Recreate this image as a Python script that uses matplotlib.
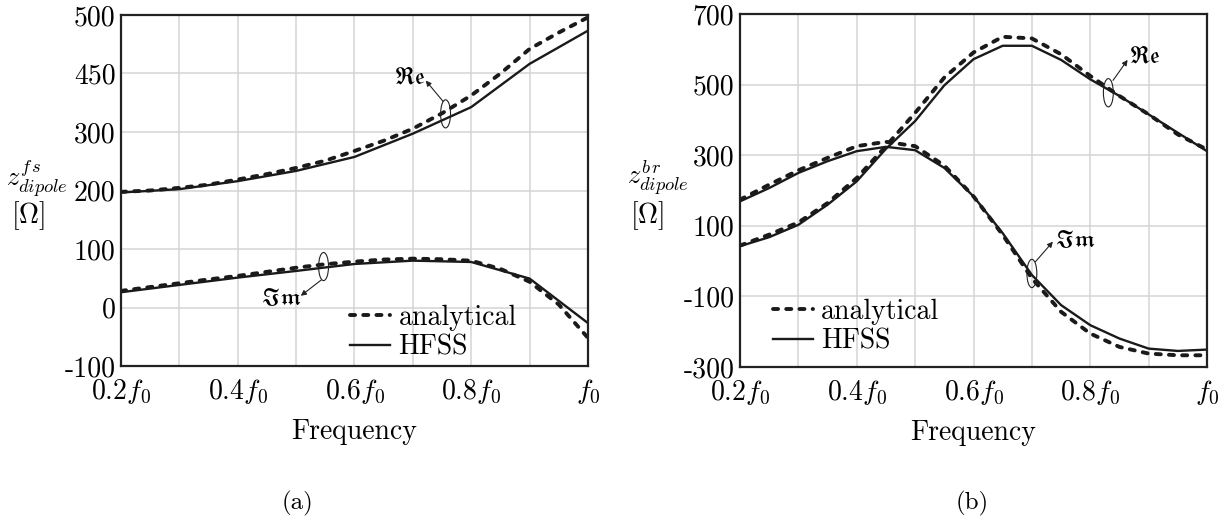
import matplotlib
matplotlib.use("Agg")
import matplotlib.pyplot as plt
from matplotlib.patches import Ellipse
import numpy as np

plt.rcParams['font.family'] = 'serif'
plt.rcParams['font.serif'] = ['cmr10']
plt.rcParams['mathtext.fontset'] = 'cm'
plt.rcParams['axes.unicode_minus'] = False
plt.rcParams['axes.formatter.use_mathtext'] = True

# frequency grids (fractions of f0)
f_coarse = [0.2, 0.3, 0.4, 0.5, 0.6, 0.7, 0.8, 0.9, 1.0]
f_fine = [0.2, 0.25, 0.3, 0.35, 0.4, 0.45, 0.5, 0.55, 0.6, 0.65, 0.7,
          0.75, 0.8, 0.85, 0.9, 0.95, 1.0]

# (a) free-space dipole impedance
fs_re_hfss = [196.6, 202.3, 216, 233.5, 257.4, 297.2, 342.6, 416.5, 473.3]
fs_im_hfss = [26.1, 38.6, 51.1, 62.5, 74.4, 80.1, 77.8, 49.4, -26.7]
fs_re_ana = [197.7, 200, 204.5, 210, 218.8, 228, 238.6, 251, 267.6, 285,
             305.7, 332, 362.5, 400, 442, 470, 496]
fs_im_ana = [28.4, 35, 41.5, 48, 54, 61, 68, 74, 78.4, 82, 83.5, 82.5, 80,
             66, 44, 5, -52]
fs_yticks = [-100, 0, 100, 200, 300, 400, 500]
fs_yticklabels = ["-100", "0", "100", "200", "300", "450", "500"]

# (b) dipole impedance with reflector
br_re_hfss = [42.2, 67.8, 102.8, 159.7, 226, 318, 396.7, 498, 572, 610, 610,
              570, 515, 467.8, 415.6, 363.5, 311.4]
br_re_ana = [44, 75, 109.5, 164.5, 235.5, 325.6, 420, 520, 591, 635.5,
             630.8, 586, 524.6, 467.8, 415.6, 358.8, 316]
br_im_hfss = [169.2, 207, 249.8, 283, 311.4, 323.7, 314.2, 264, 183.4, 79.1,
              -39.3, -124.6, -181.5, -219.4, -247.9, -254.5, -250.7]
br_im_ana = [174, 216.6, 257.3, 292.4, 325.6, 337.9, 325.6, 270.6, 183.4,
             74.4, -48.8, -143.6, -205.2, -243.1, -262, -266.8, -266.8]
br_yticks = [-300, -100, 100, 300, 500, 700]

xticks = [0.2, 0.4, 0.6, 0.8, 1.0]
xticklabels = [r"0.2$f_0$", r"0.4$f_0$", r"0.6$f_0$", r"0.8$f_0$", r"$f_0$"]

FS = 20
dash = dict(color="#1a1a1a", lw=2.8, linestyle=(0, (1.3, 2.1)),
            dash_capstyle="round")
solid = dict(color="#1a1a1a", lw=1.7)

fig = plt.figure(figsize=(12.28, 5.32), dpi=100)
ax1 = fig.add_axes([121 / 1228, 1 - 366 / 532, 467 / 1228, 351 / 532])
ax2 = fig.add_axes([740 / 1228, 1 - 367 / 532, 467 / 1228, 353 / 532])


def style(ax, yticks, ylabels, ylim):
    ax.set_xlim(0.2, 1.0)
    ax.set_ylim(*ylim)
    ax.set_xticks(np.arange(0.2, 1.01, 0.1), minor=True)
    ax.set_xticks(xticks)
    ax.set_xticklabels(xticklabels, fontsize=FS)
    ax.set_yticks(yticks)
    ax.set_yticklabels(ylabels, fontsize=FS)
    ax.tick_params(which="both", length=0, pad=4)
    ax.tick_params(axis="x", pad=8)
    ax.grid(True, which="both", axis="x", color="#d4d4d4", lw=1.1)
    ax.grid(True, which="major", axis="y", color="#d4d4d4", lw=1.1)
    ax.set_axisbelow(True)
    for s in ax.spines.values():
        s.set_linewidth(1.6)
        s.set_color("#222222")
    ax.set_xlabel("Frequency", fontsize=FS, labelpad=9)


def mark(ax, xy, size, tail, head, text, text_xy, ha):
    ax.add_patch(Ellipse(xy, size[0], size[1], fill=False, lw=0.8,
                         color="#222222", zorder=5))
    ax.annotate("", xy=head, xytext=tail,
                arrowprops=dict(arrowstyle="-|>", lw=0.8, color="#222222",
                                mutation_scale=8, shrinkA=0, shrinkB=0))
    ax.text(text_xy[0], text_xy[1], text, fontsize=FS - 3, ha=ha,
            va="center", math_fontfamily="stix")


# (a)
ax1.plot(f_fine, fs_re_ana, **dash, label="analytical")
ax1.plot(f_coarse, fs_re_hfss, **solid, label="HFSS")
ax1.plot(f_fine, fs_im_ana, **dash)
ax1.plot(f_coarse, fs_im_hfss, **solid)
style(ax1, fs_yticks, fs_yticklabels, (-100, 500))
mark(ax1, (0.756, 331), (0.017, 48), (0.752, 352), (0.722, 388),
     r"$\mathfrak{Re}$", (0.722, 393), "right")
mark(ax1, (0.547, 70), (0.017, 48), (0.543, 47), (0.508, 20),
     r"$\mathfrak{Im}$", (0.508, 15), "right")
ax1.legend(frameon=False, fontsize=FS, loc="lower left",
           bbox_to_anchor=(0.49, 0.015), borderpad=0, borderaxespad=0,
           handlelength=1.45, handletextpad=0.3, labelspacing=0.12)

# (b)
ax2.plot(f_fine, br_re_ana, **dash, label="analytical")
ax2.plot(f_fine, br_re_hfss, **solid, label="HFSS")
ax2.plot(f_fine, br_im_ana, **dash)
ax2.plot(f_fine, br_im_hfss, **solid)
style(ax2, br_yticks, [str(t) for t in br_yticks], (-300, 700))
mark(ax2, (0.831, 477), (0.017, 80), (0.839, 512), (0.864, 570),
     r"$\mathfrak{Re}$", (0.867, 580), "left")
mark(ax2, (0.700, -35), (0.017, 80), (0.706, -2), (0.736, 55),
     r"$\mathfrak{Im}$", (0.739, 58), "left")
ax2.legend(frameon=False, fontsize=FS, loc="lower left",
           bbox_to_anchor=(0.07, 0.035), borderpad=0, borderaxespad=0,
           handlelength=1.45, handletextpad=0.3, labelspacing=0.12)

# vertical axis labels
fig.text(6 / 1228, 1 - 178 / 532, r"$z^{f\,s}_{dipole}$", fontsize=FS - 1,
         ha="left", va="center")
fig.text(28 / 1228, 1 - 216 / 532, r"$[\Omega]$", fontsize=FS,
         ha="center", va="center")
fig.text(627 / 1228, 1 - 178 / 532, r"$z^{b\,r}_{dipole}$", fontsize=FS - 1,
         ha="left", va="center")
fig.text(647 / 1228, 1 - 216 / 532, r"$[\Omega]$", fontsize=FS,
         ha="center", va="center")

fig.text(297 / 1228, 1 - 503 / 532, "(a)", fontsize=FS - 2, ha="center",
         va="center")
fig.text(972 / 1228, 1 - 503 / 532, "(b)", fontsize=FS - 2, ha="center",
         va="center")

fig.savefig("out.png", dpi=100)
